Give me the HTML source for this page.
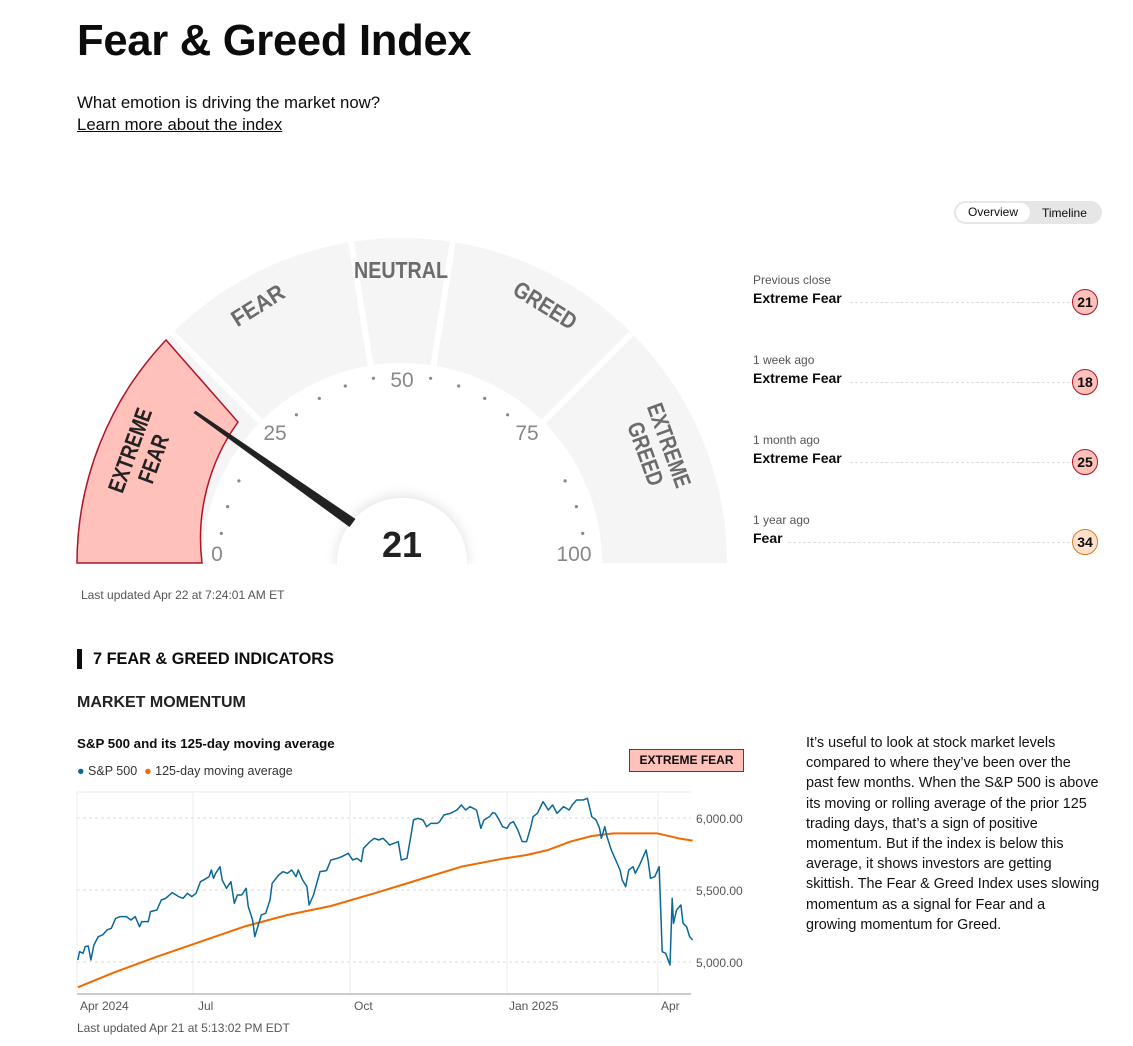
<!DOCTYPE html>
<html><head><meta charset="utf-8"><style>
body{margin:0;background:#fff;width:1133px;height:1046px;position:relative;font-family:"Liberation Sans",sans-serif;color:#0c0c0c;overflow:hidden}
.a{position:absolute;white-space:nowrap}
h1{position:absolute;left:77px;top:17px;margin:0;font-size:43.6px;font-weight:700;letter-spacing:-0.3px}
.lbl{font-size:12px;color:#555}
.val{font-size:14px;font-weight:700}
.dots{position:absolute;border-top:1px dashed #ddd;height:0}
.circ{position:absolute;width:24px;height:24px;border-radius:50%;border:1.5px solid #b0132b;background:#ffc1ba;font-size:14px;font-weight:700;text-align:center;line-height:24px}
</style></head><body>
<h1>Fear &amp; Greed Index</h1>
<div class="a" style="left:77px;top:93px;font-size:16.8px">What emotion is driving the market now?</div>
<div class="a" style="left:77px;top:115px;font-size:16.8px;text-decoration:underline">Learn more about the index</div>

<div class="a" style="left:954px;top:201px;width:148px;height:23px;border-radius:12px;background:#e6e6e6"></div>
<div class="a" style="left:956px;top:203px;width:74px;height:19px;border-radius:10px;background:#fff;font-size:12px;text-align:center;line-height:19px">Overview</div>
<div class="a" style="left:1042px;top:206px;font-size:12px">Timeline</div>

<div class="a lbl" style="left:753px;top:273px">Previous close</div>
<div class="a val" style="left:753px;top:290px">Extreme Fear</div>
<div class="dots" style="left:850px;width:220px;top:302px"></div>
<div class="circ" style="left:1072px;top:289px">21</div>
<div class="a lbl" style="left:753px;top:353px">1 week ago</div>
<div class="a val" style="left:753px;top:370px">Extreme Fear</div>
<div class="dots" style="left:850px;width:220px;top:382px"></div>
<div class="circ" style="left:1072px;top:369px">18</div>
<div class="a lbl" style="left:753px;top:433px">1 month ago</div>
<div class="a val" style="left:753px;top:450px">Extreme Fear</div>
<div class="dots" style="left:850px;width:220px;top:462px"></div>
<div class="circ" style="left:1072px;top:449px">25</div>
<div class="a lbl" style="left:753px;top:513px">1 year ago</div>
<div class="a val" style="left:753px;top:530px">Fear</div>
<div class="dots" style="left:788px;width:282px;top:542px"></div>
<div class="circ" style="left:1072px;top:529px;border-color:#e07a1f;background:#ffe0cc">34</div>

<svg class="a" style="left:0;top:0" width="760" height="564">
<defs><filter id="sh" x="-50%" y="-50%" width="200%" height="200%"><feDropShadow dx="0" dy="-2" stdDeviation="6" flood-color="#000" flood-opacity="0.12"/></filter></defs>
<g fill="#f5f5f5">
<path d="M77 563 A325 325 0 0 1 172.2 333.2 L260.6 421.6 A200 200 0 0 0 202 563Z"/>
<path d="M172.2 333.2 A325 325 0 0 1 351.2 242 L370.7 365.5 A200 200 0 0 0 260.6 421.6Z"/>
<path d="M351.2 242 A325 325 0 0 1 452.8 242 L433.3 365.5 A200 200 0 0 0 370.7 365.5Z"/>
<path d="M452.8 242 A325 325 0 0 1 631.8 333.2 L543.4 421.6 A200 200 0 0 0 433.3 365.5Z"/>
<path d="M631.8 333.2 A325 325 0 0 1 727 563 L602 563 A200 200 0 0 0 543.4 421.6Z"/>
</g>
<g stroke="#fff" stroke-width="6">
<line x1="172.2" y1="333.2" x2="268" y2="429"/><line x1="351.2" y1="242" x2="372" y2="375"/>
<line x1="452.8" y1="242" x2="432" y2="375"/><line x1="631.8" y1="333.2" x2="536" y2="429"/>
</g>
<path d="M77 563 A325 325 0 0 1 166 340 L238 422 A200 200 0 0 0 202 563Z" fill="#ffc1ba" stroke="#b0132b" stroke-width="1.5"/>
<g font-family="'Liberation Sans',sans-serif" font-weight="700" font-size="23" fill="#6b6b6b" text-anchor="middle">
<text transform="translate(262,312) rotate(-32)" textLength="58" lengthAdjust="spacingAndGlyphs">FEAR</text>
<text x="401" y="278" textLength="94" lengthAdjust="spacingAndGlyphs">NEUTRAL</text>
<text transform="translate(541,312) rotate(32)" textLength="70" lengthAdjust="spacingAndGlyphs">GREED</text>
<text transform="translate(143,455) rotate(-70)" fill="#222"><tspan x="0" y="-6" textLength="88" lengthAdjust="spacingAndGlyphs">EXTREME</tspan><tspan x="0" y="19" textLength="50" lengthAdjust="spacingAndGlyphs">FEAR</tspan></text>
<text transform="translate(656,450) rotate(70)"><tspan x="0" y="-6" textLength="88" lengthAdjust="spacingAndGlyphs">EXTREME</tspan><tspan x="0" y="19" textLength="66" lengthAdjust="spacingAndGlyphs">GREED</tspan></text>
</g>
<g fill="#888">
<circle cx="221.3" cy="533.4" r="1.6"/><circle cx="227.6" cy="506.6" r="1.6"/><circle cx="238.9" cy="480.9" r="1.6"/>
<circle cx="296.4" cy="414.8" r="1.6"/><circle cx="319.3" cy="398.4" r="1.6"/><circle cx="345.3" cy="386" r="1.6"/><circle cx="373.4" cy="378.3" r="1.6"/>
<circle cx="430.6" cy="378.3" r="1.6"/><circle cx="458.7" cy="386" r="1.6"/><circle cx="484.7" cy="398.4" r="1.6"/><circle cx="507.6" cy="414.8" r="1.6"/>
<circle cx="565.1" cy="480.9" r="1.6"/><circle cx="576.4" cy="506.6" r="1.6"/><circle cx="582.7" cy="533.4" r="1.6"/>
</g>
<g font-size="21" fill="#888" text-anchor="middle">
<text x="217" y="561">0</text><text x="275" y="440">25</text><text x="402" y="387">50</text><text x="527" y="440">75</text><text x="574" y="561">100</text>
</g>
<circle cx="402" cy="563" r="65" fill="#fff" filter="url(#sh)"/>
<polygon points="193.5,413 195.5,410.6 355.5,519 349.5,527" fill="#222"/>
<text x="402" y="557" text-anchor="middle" font-size="36" font-weight="700" fill="#222">21</text>
</svg>

<div class="a" style="left:81px;top:588px;font-size:12px;color:#555">Last updated Apr 22 at 7:24:01 AM ET</div>
<div class="a" style="left:77px;top:649px;width:5px;height:20px;background:#0c0c0c"></div>
<div class="a" style="left:93px;top:650px;font-size:16.3px;font-weight:700">7 FEAR &amp; GREED INDICATORS</div>
<div class="a" style="left:77px;top:694px;font-size:16px;font-weight:700;color:#222">MARKET MOMENTUM</div>
<div class="a" style="left:77px;top:736px;font-size:13.3px;font-weight:700">S&amp;P 500 and its 125-day moving average</div>
<div class="a" style="left:77px;top:764px;font-size:12.5px;color:#333"><span style="color:#0a6796">●</span> S&amp;P 500 &nbsp;<span style="color:#f06a00">●</span> 125-day moving average</div>
<div class="a" style="left:629px;top:749px;width:113px;height:21px;background:#ffc1ba;border:1px solid #b0132b;font-size:12px;font-weight:700;text-align:center;line-height:21px">EXTREME FEAR</div>
<div class="a" style="left:806px;top:733px;font-size:14.4px;line-height:20.2px;color:#111">It’s useful to look at stock market levels<br>compared to where they’ve been over the<br>past few months. When the S&amp;P 500 is above<br>its moving or rolling average of the prior 125<br>trading days, that’s a sign of positive<br>momentum. But if the index is below this<br>average, it shows investors are getting<br>skittish. The Fear &amp; Greed Index uses slowing<br>momentum as a signal for Fear and a<br>growing momentum for Greed.</div>

<svg class="a" style="left:0;top:780px" width="760" height="266">
<g stroke="#eee" stroke-width="1"><line x1="193" y1="12" x2="193" y2="214"/><line x1="350" y1="12" x2="350" y2="214"/><line x1="507" y1="12" x2="507" y2="214"/><line x1="658" y1="12" x2="658" y2="214"/><line x1="77" y1="12" x2="691" y2="12"/><line x1="77" y1="12" x2="77" y2="214"/></g>
<g stroke="#ddd" stroke-dasharray="3,3"><line x1="77" y1="38" x2="691" y2="38"/><line x1="77" y1="110" x2="691" y2="110"/><line x1="77" y1="182" x2="691" y2="182"/></g>
<line x1="77" y1="214" x2="691" y2="214" stroke="#999"/>
<g font-size="12" fill="#555"><text x="696" y="43">6,000.00</text><text x="696" y="115">5,500.00</text><text x="696" y="187">5,000.00</text>
<text x="80" y="230">Apr 2024</text><text x="198" y="230">Jul</text><text x="354" y="230">Oct</text><text x="509" y="230">Jan 2025</text><text x="661" y="230">Apr</text></g>
<g transform="translate(70,0) scale(0.4348,0.3333)" fill="none" stroke-linejoin="round">
<polyline vector-effect="non-scaling-stroke" stroke="#f06a00" stroke-width="2" points="18,622 100,578 200,530 300,485 400,440 500,405 600,378 700,340 800,300 900,260 1000,235 1050,225 1100,210 1150,185 1200,168 1250,160 1300,160 1350,160 1400,175 1432,182"/>
<polyline vector-effect="non-scaling-stroke" stroke="#0a6796" stroke-width="1.5" points="18,540 22,515 30,520 35,500 42,498 48,540 55,495 65,470 75,465 85,450 95,445 105,415 115,410 130,410 140,420 150,410 160,440 165,425 180,425 185,395 200,390 210,360 220,355 235,338 250,350 260,355 270,340 280,350 290,340 300,305 310,298 320,290 325,270 330,295 335,280 345,260 350,300 360,325 370,305 378,370 385,345 395,345 405,325 410,380 420,420 425,470 432,440 440,405 450,400 460,360 465,310 480,285 490,275 500,280 510,270 520,290 525,270 535,300 545,320 550,375 560,345 575,275 590,272 600,240 615,235 625,230 640,220 650,240 660,235 670,245 675,205 690,185 700,175 710,180 720,175 728,185 735,195 745,190 755,185 762,240 775,235 785,160 790,120 800,115 812,120 820,140 830,130 845,130 850,125 860,105 875,100 890,90 900,75 910,90 920,80 935,90 945,145 952,120 965,110 972,98 978,100 985,115 995,140 1005,145 1012,130 1020,125 1030,150 1040,185 1050,185 1060,140 1065,110 1075,100 1088,65 1100,90 1110,75 1120,100 1135,80 1148,90 1155,75 1165,60 1180,60 1190,55 1200,110 1210,120 1218,145 1222,175 1230,140 1235,170 1245,210 1255,240 1265,270 1270,300 1278,320 1285,270 1295,260 1300,280 1310,255 1320,225 1325,210 1330,245 1335,295 1345,290 1355,260 1362,515 1370,520 1380,555 1385,355 1388,430 1395,390 1405,375 1410,430 1418,440 1425,470 1432,480"/>
</g>
</svg>
<div class="a" style="left:77px;top:1021px;font-size:12px;color:#555">Last updated Apr 21 at 5:13:02 PM EDT</div>
</body></html>
